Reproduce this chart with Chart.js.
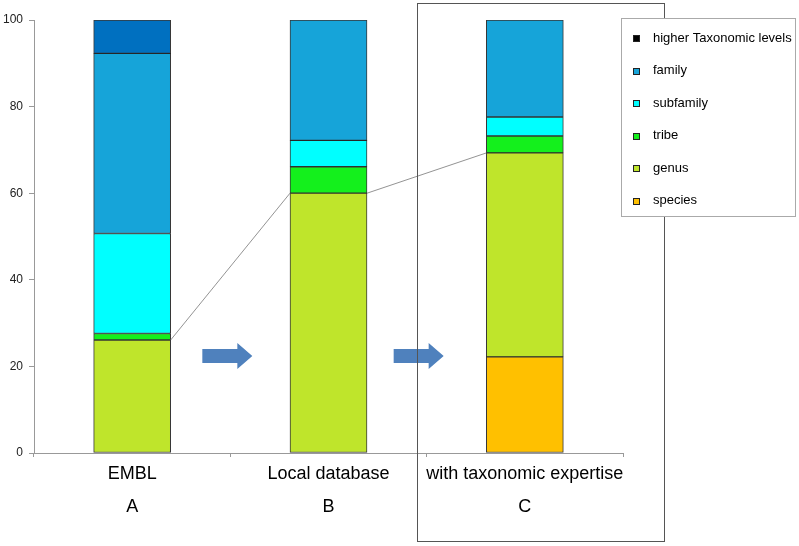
<!DOCTYPE html>
<html>
<head>
<meta charset="utf-8">
<title>Taxonomic assignment</title>
<script src="https://cdn.jsdelivr.net/npm/chart.js@4"></script>
<style>
  html, body { margin: 0; padding: 0; background: #fff; }
  canvas { display: block; }
</style>
</head>
<body>
<canvas id="myChart" width="799" height="546"></canvas>
<script>
// categories and panel letters
const categories = ['EMBL', 'Local database', 'with taxonomic expertise'];
const panelLetters = ['A', 'B', 'C'];

// percentage of sequences per taxonomic level (stack order, bottom first)
const species = [0, 0, 22.2];
const genus = [26.1, 60.0, 47.1];
const tribe = [1.5, 6.1, 3.9];
const subfamily = [23.1, 6.1, 4.4];
const family = [41.6, 27.8, 22.4];
const higher = [7.7, 0, 0];

const yTicks = [0, 20, 40, 60, 80, 100];

const FONT = '"Liberation Sans", Arial, Helvetica, sans-serif';

(() => {
    'use strict'

    const series = [
        { label: 'species', data: species, color: '#FFC000', legend: '#FFC000' },
        { label: 'genus', data: genus, color: '#BFE52B', legend: '#BFE52B' },
        { label: 'tribe', data: tribe, color: '#14F01C', legend: '#14F01C' },
        { label: 'subfamily', data: subfamily, color: '#00FFFF', legend: '#00FFFF' },
        { label: 'family', data: family, color: '#16A4D9', legend: '#16A4D9' },
        { label: 'higher Taxonomic levels', data: higher, color: '#0070C0', legend: '#000000' }
    ]

    // extra drawing: link lines, arrows, frame round C and the legend box
    const decorations = {
        id: 'decorations',
        afterDatasetsDraw(chart) {
            const c = chart.ctx
            const y = chart.scales.y
            const bars = chart.getDatasetMeta(1).data

            // thin lines joining genus tops
            c.save()
            c.strokeStyle = '#777'
            c.lineWidth = 0.8
            for (let i = 0; i < bars.length - 1; i++) {
                const a = bars[i], b = bars[i + 1]
                const topA = y.getPixelForValue(species[i] + genus[i])
                const topB = y.getPixelForValue(species[i + 1] + genus[i + 1])
                c.beginPath()
                c.moveTo(a.x + a.width / 2, topA)
                c.lineTo(b.x - b.width / 2, topB)
                c.stroke()
            }
            c.restore()

            // arrows between the bars
            const arrowY = y.getPixelForValue(22.4)
            const shifts = [-3, -8]
            c.save()
            c.fillStyle = '#4F81BD'
            for (let i = 0; i < bars.length - 1; i++) {
                const a = bars[i], b = bars[i + 1]
                const mid = ((a.x + a.width / 2) + (b.x - b.width / 2)) / 2 + shifts[i]
                const x0 = mid - 25, x1 = mid + 25, head = 15
                c.beginPath()
                c.moveTo(x0, arrowY - 7)
                c.lineTo(x1 - head, arrowY - 7)
                c.lineTo(x1 - head, arrowY - 13)
                c.lineTo(x1, arrowY)
                c.lineTo(x1 - head, arrowY + 13)
                c.lineTo(x1 - head, arrowY + 7)
                c.lineTo(x0, arrowY + 7)
                c.closePath()
                c.fill()
            }
            c.restore()
        },
        afterDraw(chart) {
            const c = chart.ctx
            const barC = chart.getDatasetMeta(1).data[2]

            // frame round panel C
            c.save()
            c.strokeStyle = '#555'
            c.lineWidth = 1
            c.strokeRect(Math.round(barC.x - 108) + 0.5, 3.5, 247, 538)
            c.restore()

            // legend
            const lx = 621, ly = 18, lw = 174, lh = 198
            c.save()
            c.fillStyle = '#fff'
            c.fillRect(lx, ly, lw, lh)
            c.strokeStyle = '#aaa'
            c.lineWidth = 1
            c.strokeRect(lx + 0.5, ly + 0.5, lw, lh)
            c.font = '13px ' + FONT
            c.textBaseline = 'middle'
            const items = series.slice().reverse()
            items.forEach((s, i) => {
                const cy = 38 + i * 32.5
                c.fillStyle = s.legend
                c.fillRect(633, Math.round(cy) - 3, 7, 7)
                c.strokeStyle = '#222'
                c.strokeRect(633.5, Math.round(cy) - 2.5, 6, 6)
                c.fillStyle = '#000'
                c.fillText(s.label, 653, cy)
            })
            c.restore()
        }
    }

    const ctx = document.getElementById('myChart')
    const myChart = new Chart(ctx, {
        type: 'bar',
        data: {
            labels: categories,
            datasets: series.map(s => ({
                label: s.label,
                data: s.data,
                backgroundColor: s.color,
                borderColor: 'rgba(20,20,20,0.85)',
                borderWidth: 1,
                borderSkipped: false,
                barThickness: 77
            }))
        },
        options: {
            responsive: false,
            animation: false,
            layout: {
                padding: { top: 20, right: 176, left: 0, bottom: 0 }
            },
            plugins: {
                legend: { display: false },
                tooltip: { enabled: false }
            },
            scales: {
                x: {
                    stacked: true,
                    afterFit(scale) { scale.height = 93 },
                    grid: {
                        offset: true,
                        drawOnChartArea: false,
                        tickLength: 4,
                        color: '#999'
                    },
                    border: { color: '#999', width: 1 },
                    ticks: {
                        padding: 1,
                        color: '#000',
                        autoSkip: false,
                        maxRotation: 0,
                        minRotation: 0,
                        font: { family: FONT, size: 18, lineHeight: '33px' },
                        callback: (v, i) => [categories[i], panelLetters[i]]
                    }
                },
                y: {
                    stacked: true,
                    min: 0,
                    max: 100,
                    afterFit(scale) { scale.width = 34 },
                    afterBuildTicks(scale) { scale.ticks = yTicks.map(v => ({ value: v })) },
                    grid: {
                        drawOnChartArea: false,
                        tickLength: 5,
                        color: '#999'
                    },
                    border: { color: '#999', width: 1 },
                    ticks: {
                        padding: 6,
                        color: '#222',
                        font: { family: FONT, size: 12 }
                    }
                }
            }
        },
        plugins: [decorations]
    })
})()
</script>
</body>
</html>
